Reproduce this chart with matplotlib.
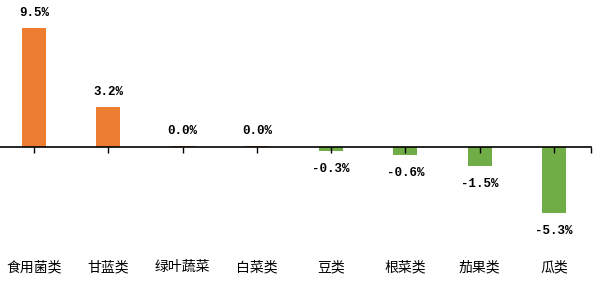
import matplotlib
matplotlib.use("Agg")
import matplotlib.pyplot as plt

categories = ["食用菌类", "甘蓝类", "绿叶蔬菜", "白菜类", "豆类", "根菜类", "茄果类", "瓜类"]
values = [9.5, 3.2, 0.04, 0.04, -0.3, -0.6, -1.5, -5.3]
labels = ["9.5%", "3.2%", "0.0%", "0.0%", "-0.3%", "-0.6%", "-1.5%", "-5.3%"]

plt.rcParams['font.family'] = ['Noto Sans CJK SC', 'DejaVu Sans']

fig = plt.figure(figsize=(6.0, 2.84), dpi=100)
ax = fig.add_axes([-0.005, 0.0, 0.99, 1.0])
x = list(range(len(categories)))
colors = ["#ED7D31" if v >= 0 else "#70AD47" for v in values]
ax.bar(x, values, width=0.32, color=colors)

ax.set_xlim(-0.5, 7.5)
ppu = 12.53
top = 147 / ppu
bottom = -(284 - 147) / ppu
ax.set_ylim(bottom, top)

for s in ["top", "right", "left"]:
    ax.spines[s].set_visible(False)
ax.spines["bottom"].set_position(("data", 0))
ax.spines["bottom"].set_linewidth(1.2)
ax.set_yticks([])
ax.set_xticks(x)
ax.set_xticklabels([])
ax.set_xticks([7.5], minor=True)
ax.tick_params(axis="x", which="both", direction="out", length=4, width=1, color="black")

mono = ["Liberation Mono", "DejaVu Sans Mono"]
for xi, v, lab in zip(x, values, labels):
    off = 15 if v >= 0 else -18
    ax.annotate(lab, (xi, v), xytext=(0, off), textcoords="offset pixels",
                ha="center", va="center", fontsize=9, family=mono,
                fontweight="bold")

y_lab = (147 - 267) / ppu
for xi, c in zip(x, categories):
    ax.text(xi, y_lab, "\u2009".join(c) if False else c, ha="center", va="center",
            fontsize=10)

fig.savefig("out.png", dpi=100)
